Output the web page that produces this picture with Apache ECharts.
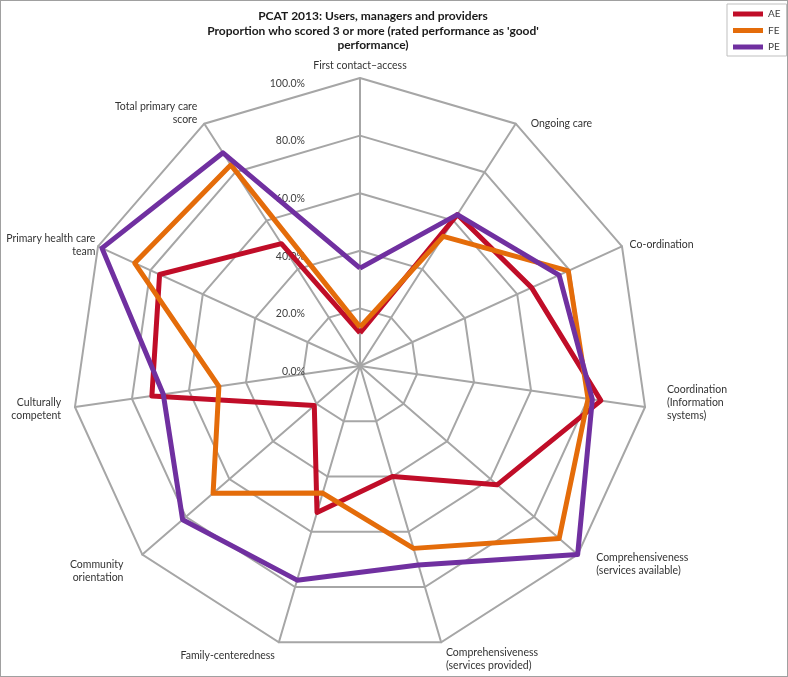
<!DOCTYPE html>
<html>
<head>
<meta charset="utf-8">
<script src="https://cdn.jsdelivr.net/npm/echarts@6/dist/echarts.min.js"></script>
<style>
  html, body { margin: 0; padding: 0; background: #fff; }
  #chart { position: absolute; left: 0; top: 0; width: 788px; height: 677px; }
  #frame {
    position: absolute; left: 0; top: 0; width: 788px; height: 677px;
    box-sizing: border-box; border: 1px solid #a0a0a0; pointer-events: none;
  }
</style>
</head>
<body>
<div id="chart"></div>
<div id="frame"></div>
<script>
// axes, clockwise from the top
const categories = [
  'First contact\u2013access',
  'Ongoing care',
  'Co-ordination',
  'Coordination\n(Information\nsystems)',
  'Comprehensiveness\n(services available)',
  'Comprehensiveness\n(services provided)',
  'Family-centeredness',
  'Community\norientation',
  'Culturally\ncompetent',
  'Primary health care\nteam',
  'Total primary care\nscore'
]

const seriesNames = ['AE', 'FE', 'PE']
const aeValues = [11.5, 62.5, 65.5, 84.5, 63.0, 40.0, 53.0, 21.0, 73.0, 76.5, 50.5]
const feValues = [13.5, 53.5, 79.5, 80.0, 91.5, 66.0, 46.0, 67.5, 49.5, 86.0, 83.0]
const peValues = [34.0, 62.5, 76.0, 81.5, 100.0, 72.0, 77.5, 81.5, 69.0, 98.5, 88.0]
const tickMax = 100

const colors = ['#c00d28', '#e46c0a', '#7030a0']

// echarts lays radar axes out counter-clockwise, so keep the first and reverse the rest
const order = [0].concat(categories.map((_, i) => i).slice(1).reverse())
const reorder = (arr) => order.map((i) => arr[i])

// small per-axis tweaks so names sit where the original puts them
const nameGaps = { 0: 6, 1: 0, 2: 4, 5: 17, 7: 25, 9: 3, 10: 13 }
const namePads = {
  1: [0, 0, 0, 15],
  2: [0, 0, 0, 4],
  3: [0, 0, 0, 8],
  4: [0, 0, 0, 8]
}
// a trailing blank line lifts the block a little
const liftName = { 3: true }

const indicator = reorder(categories).map((name, j) => {
  const src = order[j]
  const item = { name: liftName[src] ? name + '\n ' : name, max: tickMax, min: 0 }
  if (nameGaps[src] != null) item.nameGap = nameGaps[src]
  if (namePads[src]) item.nameTextStyle = { padding: namePads[src] }
  if (src === 0) {
    item.axisLabel = {
      show: true,
      margin: 55,
      color: '#404040',
      fontSize: 10.5,
      fontFamily: 'Lato',
      verticalAlign: 'top',
      formatter: (v) => v.toFixed(1) + '%'
    }
  }
  return item
})

const chart = echarts.init(document.getElementById('chart'))

chart.setOption({
  animation: false,
  color: colors,
  title: {
    text: 'PCAT 2013: Users, managers and providers\nProportion who scored 3 or more (rated performance as \'good\'\nperformance)',
    left: 368,
    top: 4,
    textAlign: 'center',
    textStyle: {
      fontFamily: 'Lato',
      fontSize: 12,
      fontWeight: 'bold',
      lineHeight: 14.5,
      color: '#1a1a1a'
    }
  },
  legend: {
    data: seriesNames,
    orient: 'vertical',
    left: 727,
    top: 4,
    padding: [4, 6, 3, 6],
    itemGap: 4.5,
    itemWidth: 30,
    itemHeight: 5,
    icon: 'rect',
    borderColor: '#bfbfbf',
    borderWidth: 1,
    textStyle: { fontFamily: 'Lato', fontSize: 10, color: '#404040', lineHeight: 12 }
  },
  radar: {
    center: [360, 366],
    radius: 288,
    startAngle: 90,
    shape: 'polygon',
    splitNumber: 5,
    nameGap: 14,
    axisName: {
      color: '#333',
      fontFamily: 'Lato',
      fontSize: 10.5,
      lineHeight: 13
    },
    axisLine: { lineStyle: { color: '#a6a6a6', width: 2 } },
    splitLine: { lineStyle: { color: '#a6a6a6', width: 2 } },
    splitArea: { show: false },
    axisTick: { show: false },
    axisLabel: { show: false },
    indicator: indicator
  },
  series: [
    {
      type: 'radar',
      symbol: 'none',
      lineStyle: { width: 5 },
      data: [
        { name: seriesNames[0], value: reorder(aeValues) },
        { name: seriesNames[1], value: reorder(feValues) },
        { name: seriesNames[2], value: reorder(peValues) }
      ]
    }
  ]
})
</script>
</body>
</html>
